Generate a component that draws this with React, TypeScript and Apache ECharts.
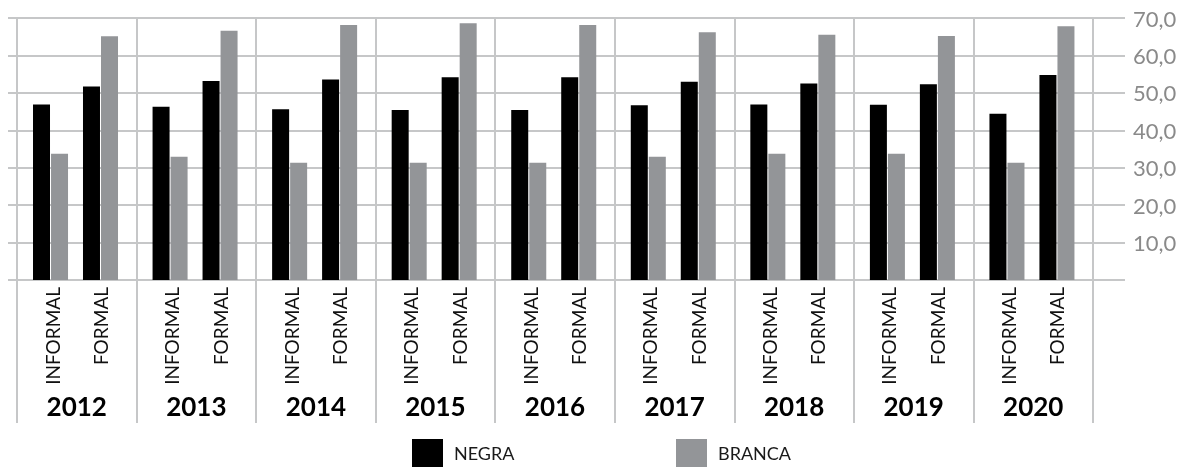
import React, { useEffect, useRef } from "react";
import * as echarts from "echarts";

const years = ["2012", "2013", "2014", "2015", "2016", "2017", "2018", "2019", "2020"];
const types = ["INFORMAL", "FORMAL"];
// values per year
const negraInformal = [46.9, 46.3, 45.6, 45.4, 45.4, 46.7, 46.9, 46.8, 44.4];
const negraFormal = [51.7, 53.2, 53.6, 54.2, 54.2, 53.0, 52.5, 52.3, 54.8];
const brancaInformal = [33.7, 32.9, 31.3, 31.3, 31.3, 32.9, 33.7, 33.7, 31.3];
const brancaFormal = [65.1, 66.6, 68.1, 68.6, 68.1, 66.2, 65.5, 65.2, 67.8];
const yTicks = [0, 10, 20, 30, 40, 50, 60, 70];

const BLACK = "#000000";
const GRAY = "#939598";
const GRID = "#c6c7c8";
const FONT = "Lato";

export default function App() {
  const ref = useRef<HTMLDivElement>(null);
  useEffect(() => {
    if (!ref.current) return;
    const chart = echarts.init(ref.current, undefined, { renderer: "svg" });
    const lineStyle = { color: GRID, width: 2 };
    const W = 1187;
    const blockW = 1076;
    const plotLeft = 17;
    const slot = blockW / years.length;
    const leftFor = plotLeft + 83.5 - slot / 2;
    const infLabelLeft = plotLeft + 35;
    const infLabelW = slot * (years.length - 1);
    const gridTop = 18;
    const gridBottom = 187;
    const labelStyle = (label: string) => ({
      interval: 0,
      rotate: 90,
      margin: 7,
      fontSize: 19,
      color: "#111",
      fontFamily: FONT,
      formatter: () => label,
    });
    const hiddenY = (grid: number) => ({
      gridIndex: grid,
      type: "value",
      min: yTicks[0],
      max: yTicks[yTicks.length - 1],
      show: false,
      splitLine: { show: false },
    });
    const legendText = { fontSize: 18, color: "#1a1a1a", fontFamily: FONT, padding: [0, 0, 0, 6] };
    const bar = (name: string, axis: number, data: (number | string)[], color: string, width = 17) => ({
      name,
      type: "bar",
      xAxisIndex: axis,
      yAxisIndex: axis,
      data,
      barWidth: width,
      barGap: "6%",
      itemStyle: { color },
    });
    chart.setOption({
      animation: false,
      textStyle: { fontFamily: FONT },
      grid: [
        { left: 8, right: 62, top: gridTop, bottom: gridBottom },
        { left: plotLeft, right: W - plotLeft - blockW, top: gridTop, bottom: gridBottom },
        { left: plotLeft, right: W - plotLeft - blockW, top: gridTop, bottom: gridBottom },
        { left: leftFor, right: W - leftFor - blockW, top: gridTop, bottom: gridBottom },
        { left: infLabelLeft, right: W - infLabelLeft - infLabelW, top: gridTop, bottom: gridBottom },
      ],
      legend: [
        {
          data: [{ name: "NEGRA", icon: "rect" }],
          left: 412,
          top: 439,
          padding: 0,
          itemWidth: 31,
          itemHeight: 28,
          textStyle: legendText,
          selectedMode: false,
        },
        {
          data: [{ name: "BRANCA", icon: "rect" }],
          left: 676,
          top: 439,
          padding: 0,
          itemWidth: 31,
          itemHeight: 28,
          textStyle: legendText,
          selectedMode: false,
        },
      ],
      xAxis: [
        { gridIndex: 0, type: "value", min: 0, max: 1, show: false },
        {
          gridIndex: 1,
          type: "category",
          data: years,
          position: "bottom",
          axisLine: { show: false },
          axisTick: { show: true, length: 143, lineStyle },
          splitLine: { show: true, lineStyle },
          axisLabel: {
            interval: 0,
            margin: 113,
            fontSize: 26,
            fontWeight: "bold",
            color: "#000",
            fontFamily: FONT,
          },
        },
        {
          gridIndex: 2,
          type: "category",
          data: years,
          show: false,
        },
        {
          gridIndex: 3,
          type: "category",
          data: years,
          axisLine: { show: false },
          axisTick: { show: false },
          splitLine: { show: false },
          axisLabel: labelStyle(types[1]),
        },
        {
          gridIndex: 4,
          type: "category",
          data: years,
          boundaryGap: false,
          axisLine: { show: false },
          axisTick: { show: false },
          splitLine: { show: false },
          axisLabel: labelStyle(types[0]),
        },
      ],
      yAxis: [
        {
          gridIndex: 0,
          type: "value",
          position: "right",
          min: yTicks[0],
          max: yTicks[yTicks.length - 1],
          interval: 10,
          axisLine: { show: false },
          axisTick: { show: false },
          splitLine: { show: true, lineStyle },
          axisLabel: {
            showMinLabel: false,
            margin: 8,
            fontSize: 22,
            color: "#8a8a8a",
            fontFamily: FONT,
            formatter: (v: number) => v.toFixed(1).replace(".", ","),
          },
        },
        hiddenY(1),
        hiddenY(2),
        hiddenY(3),
        hiddenY(4),
      ],
      series: [
        bar("NEGRA", 2, negraInformal, BLACK),
        bar("BRANCA", 2, brancaInformal, GRAY),
        // empty spacer series that moves the informal pair to its place in the year block
        bar("spacer", 2, years.map(() => "-"), "transparent", 51.5),
        bar("NEGRA", 3, negraFormal, BLACK),
        bar("BRANCA", 3, brancaFormal, GRAY),
      ],
    });
    return () => chart.dispose();
  }, []);
  return (
    <div
      ref={ref}
      style={{ position: "fixed", left: 0, top: 0, width: 1187, height: 467 }}
    />
  );
}
